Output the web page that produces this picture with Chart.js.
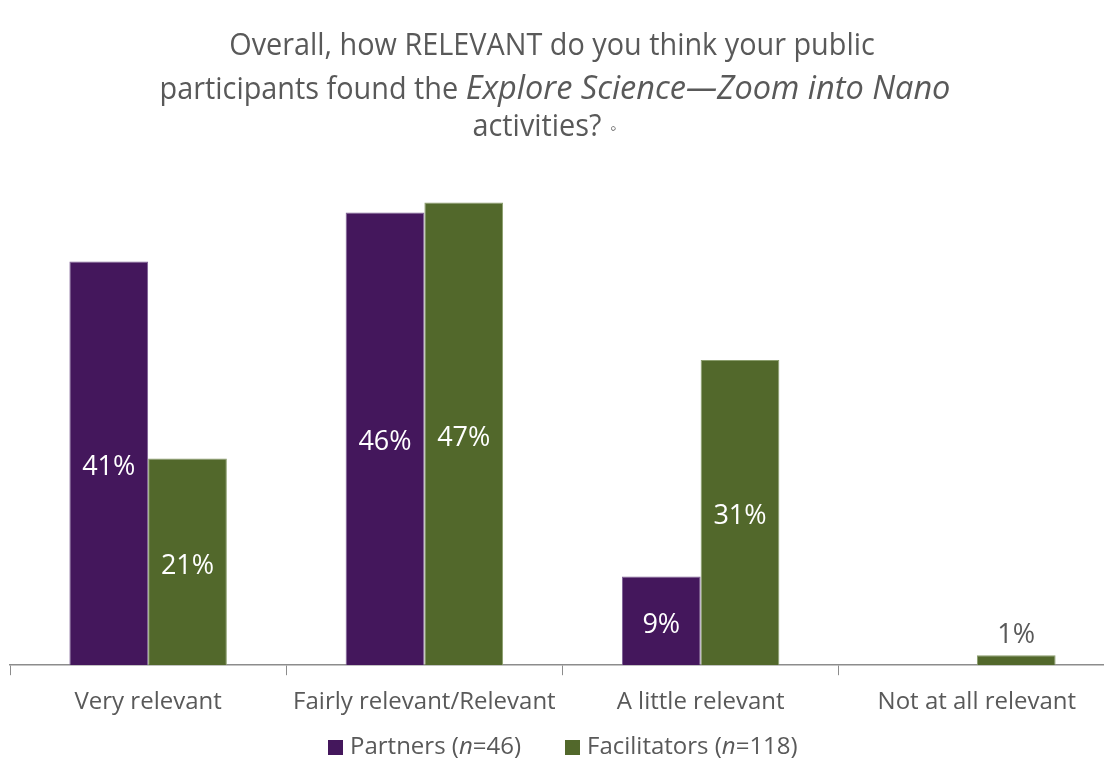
<!DOCTYPE html>
<html>
<head>
<meta charset="utf-8">
<script src="https://cdn.jsdelivr.net/npm/chart.js@4"></script>
<style>
  html, body { margin: 0; padding: 0; background: #fff; overflow: hidden; }
  #wrap { position: relative; width: 1130px; height: 770px; }
</style>
</head>
<body>
<div id="wrap"><canvas id="myChart"></canvas></div>
<script>
// relevance ratings, percent of respondents
const categorias = ["Very relevant", "Fairly relevant/Relevant", "A little relevant", "Not at all relevant"];
const partners = [41, 46, 9, 0];
const facilitators = [21, 47, 31, 1];
const serieNombres = ["Partners", "Facilitators"];
const serieN = [46, 118];

const FONT = "'Open Sans', sans-serif";
const GRIS = "#595959";
const MORADO = "#44175C";
const VERDE = "#52682B";

// draws a line made of text runs centered on cx; roman runs are squeezed a bit
function lineaMixta(ctx, runs, cx, y, size) {
    let total = 0;
    runs.forEach(r => {
        r.size = r.italic ? size + 1.5 : size;
        ctx.font = (r.italic ? "italic " : "") + r.size + "px " + FONT;
        r.sx = r.italic ? 1.0 : 0.93;
        r.w = ctx.measureText(r.text).width * r.sx;
        total += r.w;
    });
    let x = cx - total / 2;
    runs.forEach(r => {
        ctx.font = (r.italic ? "italic " : "") + r.size + "px " + FONT;
        ctx.save();
        ctx.translate(x, y);
        ctx.scale(r.sx, 1);
        ctx.fillText(r.text, 0, 0);
        ctx.restore();
        x += r.w;
    });
    return { left: cx - total / 2, right: cx + total / 2 };
}

const tituloPlugin = {
    id: "tituloPlugin",
    afterDraw(chart) {
        const ctx = chart.ctx;
        ctx.save();
        ctx.fillStyle = GRIS;
        ctx.textBaseline = "middle";
        ctx.textAlign = "left";
        const cx = 552;
        lineaMixta(ctx, [{ text: "Overall, how RELEVANT do you think your public" }], cx, 46, 31);
        lineaMixta(ctx, [
            { text: "participants found the " },
            { text: "Explore Science\u2014Zoom into Nano", italic: true }
        ], cx + 3, 90, 31);
        lineaMixta(ctx, [{ text: "activities?" }], 537, 127, 31);
        ctx.font = "18px " + FONT;
        ctx.fillText("\u25E6", 610, 129);
        ctx.restore();
    }
};

const leyendaPlugin = {
    id: "leyendaPlugin",
    afterDraw(chart) {
        const ctx = chart.ctx;
        ctx.save();
        ctx.textBaseline = "middle";
        const y = 747;
        const items = [
            { x: 328, color: MORADO, nombre: serieNombres[0], n: serieN[0] },
            { x: 565, color: VERDE, nombre: serieNombres[1], n: serieN[1] }
        ];
        items.forEach(it => {
            ctx.fillStyle = it.color;
            ctx.fillRect(it.x, y - 7, 15, 15);
            ctx.fillStyle = GRIS;
            let x = it.x + 22;
            [[it.nombre + " (", false], ["n", true], ["=" + it.n + ")", false]].forEach(([t, ital]) => {
                ctx.font = (ital ? "italic " : "") + "24px " + FONT;
                ctx.fillText(t, x, y);
                x += ctx.measureText(t).width;
            });
        });
        ctx.restore();
    }
};

// value labels inside the bars, or above when the bar is too short
const etiquetasPlugin = {
    id: "etiquetasPlugin",
    afterDatasetsDraw(chart) {
        const ctx = chart.ctx;
        ctx.save();
        ctx.font = "27px " + FONT;
        ctx.textAlign = "center";
        ctx.textBaseline = "middle";
        chart.data.datasets.forEach((ds, i) => {
            chart.getDatasetMeta(i).data.forEach((bar, j) => {
                const v = ds.data[j];
                if (!v) return;
                const h = bar.base - bar.y;
                if (h > 40) {
                    ctx.fillStyle = "#fff";
                    ctx.fillText(v + "%", bar.x, (bar.y + bar.base) / 2 + 4);
                } else {
                    ctx.fillStyle = GRIS;
                    ctx.fillText(v + "%", bar.x, bar.y - 20);
                }
            });
        });
        ctx.restore();
    }
};

new Chart("myChart", {
    type: "bar",
    data: {
        labels: categorias,
        datasets: [
            {
                label: serieNombres[0],
                data: partners,
                backgroundColor: MORADO,
                borderColor: "#7d5f95",
                borderWidth: 1,
                categoryPercentage: 0.57,
                barPercentage: 1
            },
            {
                label: serieNombres[1],
                data: facilitators,
                backgroundColor: VERDE,
                borderColor: "#8a9d6c",
                borderWidth: 1,
                categoryPercentage: 0.57,
                barPercentage: 1
            }
        ]
    },
    options: {
        responsive: true,
        maintainAspectRatio: false,
        animation: false,
        layout: { padding: { left: 10, right: 15, top: 173, bottom: 40 } },
        plugins: {
            legend: { display: false },
            title: { display: false },
            tooltip: { enabled: false }
        },
        scales: {
            x: {
                grid: {
                    offset: true,
                    drawOnChartArea: false,
                    drawTicks: true,
                    tickLength: 10,
                    color: "#8c8c8c"
                },
                border: { color: "#8c8c8c", width: 1.5 },
                ticks: {
                    color: GRIS,
                    padding: 13,
                    font: { family: FONT, size: 24 }
                }
            },
            y: {
                display: false,
                min: 0,
                max: 50
            }
        }
    },
    plugins: [tituloPlugin, leyendaPlugin, etiquetasPlugin]
});
</script>
</body>
</html>
